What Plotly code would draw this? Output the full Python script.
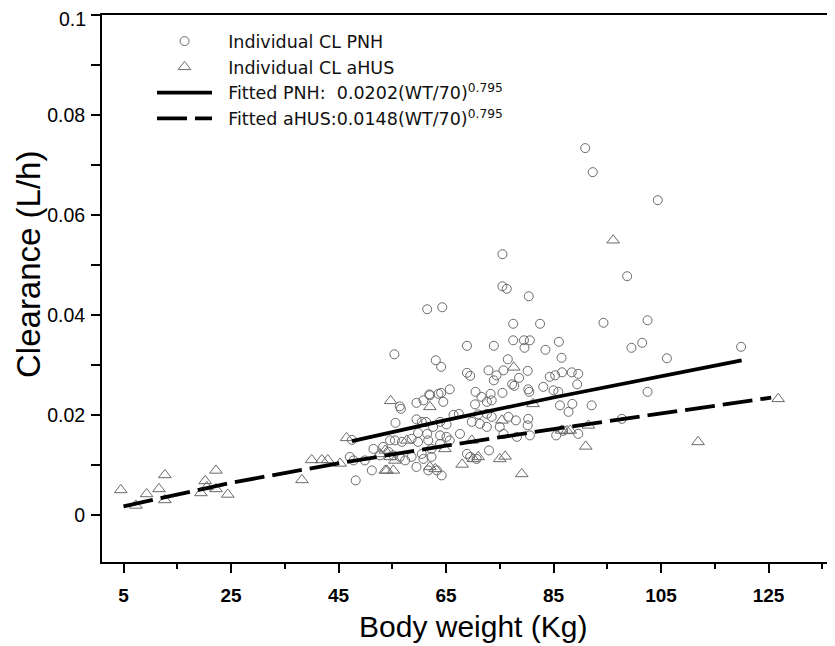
import plotly.graph_objects as go

# ---- data ----
pnh_wt = [75.5, 75.5, 76.3, 80.4, 61.5, 64.3, 98.7, 77.5, 82.5, 94.3,
          55.4, 68.9, 73.9, 77.5, 79.5, 80.6, 79.6, 83.5, 86.0, 99.5,
          63.1, 64.1, 76.5, 86.5, 68.9, 69.5, 72.9, 74.4, 73.9, 75.7,
          80.2, 78.6, 77.3, 77.7, 84.3, 85.3, 86.6, 88.4, 89.6, 89.4,
          83.1, 80.3, 80.5, 85.0, 85.9, 88.5, 92.1, 86.2, 87.8, 65.7,
          64.1, 61.9, 59.5, 60.8, 64.5, 56.4, 56.6, 70.5, 71.6, 73.3,
          73.5, 75.5, 70.4, 72.6, 67.4, 66.4, 59.5, 61.3, 63.9, 65.1,
          55.6, 71.0, 72.6, 73.5, 76.6, 78.0, 80.3, 80.2, 69.8, 71.3,
          72.6, 59.8, 61.5, 63.9, 65.1, 67.6, 75.0, 75.7, 78.2, 80.6,
          85.5, 86.8, 89.6, 97.7, 73.0, 68.9, 69.5, 70.7, 64.2, 63.3,
          60.8, 60.5, 58.6, 62.3, 63.9, 65.7, 61.7, 59.8, 58.6, 56.8,
          55.5, 54.6, 53.3, 54.3, 55.2, 51.2, 49.9, 47.8, 47.1, 48.2,
          47.5, 51.5, 90.9, 92.3, 104.4, 102.5, 101.5, 106.1, 119.9, 102.5,
          62.0, 63.6, 60.5, 62.6, 52.7, 56.4, 57.4, 62.3, 59.5, 61.7]
pnh_cl = [0.0522, 0.0458, 0.0453, 0.0438, 0.0412, 0.0416, 0.0478, 0.0383, 0.0383, 0.0385,
          0.0322, 0.0339, 0.0339, 0.0350, 0.0350, 0.0350, 0.0335, 0.0331, 0.0347, 0.0335,
          0.0310, 0.0297, 0.0312, 0.0315, 0.0285, 0.0279, 0.0290, 0.0280, 0.0270, 0.0290,
          0.0289, 0.0275, 0.0262, 0.0259, 0.0277, 0.0280, 0.0286, 0.0286, 0.0283, 0.0262,
          0.0257, 0.0252, 0.0247, 0.0250, 0.0247, 0.0223, 0.0220, 0.0220, 0.0207, 0.0252,
          0.0245, 0.0242, 0.0225, 0.0230, 0.0227, 0.0218, 0.0213, 0.0247, 0.0237, 0.0243,
          0.0230, 0.0245, 0.0222, 0.0227, 0.0203, 0.0201, 0.0192, 0.0187, 0.0187, 0.0182,
          0.0185, 0.0202, 0.0203, 0.0197, 0.0197, 0.0190, 0.0193, 0.0180, 0.0187, 0.0183,
          0.0177, 0.0165, 0.0163, 0.0160, 0.0157, 0.0163, 0.0177, 0.0163, 0.0157, 0.0160,
          0.0160, 0.0169, 0.0163, 0.0193, 0.0130, 0.0123, 0.0117, 0.0113, 0.0080, 0.0090,
          0.0113, 0.0123, 0.0117, 0.0133, 0.0143, 0.0150, 0.0150, 0.0147, 0.0153, 0.0147,
          0.0150, 0.0150, 0.0137, 0.0127, 0.0120, 0.0090, 0.0110, 0.0110, 0.0117, 0.0070,
          0.0151, 0.0133, 0.0734, 0.0686, 0.0630, 0.0390, 0.0345, 0.0314, 0.0337, 0.0247,
          0.0240, 0.0243, 0.0187, 0.0177, 0.0120, 0.0117, 0.0110, 0.0117, 0.0097, 0.0090]

ahus_wt = [4.5, 7.3, 9.3, 11.6, 12.7, 12.7, 19.4, 20.2, 20.5, 22.2,
           22.2, 24.4, 38.2, 40.0, 41.9, 43.0, 45.3, 46.5, 54.7, 53.7,
           62.0, 52.7, 53.7, 54.6, 55.5, 54.0, 55.2, 57.7, 64.8, 69.8,
           70.1, 71.0, 68.0, 75.0, 76.0, 79.1, 62.0, 63.0, 77.6, 75.4,
           81.2, 87.5, 88.1, 91.5, 91.0, 96.1, 111.9, 126.8, 86.5]
ahus_cl = [0.0051, 0.0020, 0.0043, 0.0053, 0.0081, 0.0031, 0.0045, 0.0069, 0.0057, 0.0090,
           0.0053, 0.0042, 0.0071, 0.0111, 0.0111, 0.0111, 0.0104, 0.0155, 0.0229, 0.0090,
           0.0217, 0.0123, 0.0130, 0.0117, 0.0110, 0.0090, 0.0090, 0.0150, 0.0133, 0.0150,
           0.0113, 0.0117, 0.0102, 0.0113, 0.0118, 0.0083, 0.0097, 0.0093, 0.0296, 0.0190,
           0.0223, 0.0169, 0.0170, 0.0180, 0.0138, 0.0550, 0.0147, 0.0233, 0.0170]

fit_pnh_wt = [47.5, 65, 85, 105, 120]
fit_pnh_cl = [0.01484, 0.01904, 0.02357, 0.02788, 0.0310]
fit_ahus_wt = [5, 25, 45, 65, 85, 105, 125.5]
fit_ahus_cl = [0.00182, 0.00653, 0.01042, 0.01395, 0.01727, 0.02043, 0.02354]

x_ticks = [5, 25, 45, 65, 85, 105, 125]
y_ticks = [0, 0.02, 0.04, 0.06, 0.08, 0.1]
y_tick_text = ["0", "0.02", "0.04", "0.06", "0.08", ""]   # top label placed below as annotation
y_top_label = "0.1"

FONT = "Liberation Sans, Arial, sans-serif"
GRAY = "#6a6a6a"
NB = "\u00a0\u00a0"

fig = go.Figure()
fig.add_trace(go.Scatter(
    x=pnh_wt, y=pnh_cl, mode="markers", name=NB + "Individual CL PNH",
    marker=dict(symbol="circle-open", size=9, color=GRAY, line=dict(width=1, color=GRAY)),
))
fig.add_trace(go.Scatter(
    x=ahus_wt, y=ahus_cl, mode="markers", name=NB + "Individual CL aHUS",
    marker=dict(symbol="triangle-up-open", size=11, color=GRAY, line=dict(width=1, color=GRAY)),
))
fig.add_trace(go.Scatter(
    x=fit_pnh_wt, y=fit_pnh_cl, mode="lines",
    name=NB + "Fitted PNH:  0.0202(WT/70)<sup>0.795</sup>",
    line=dict(color="black", width=3.8),
))
fig.add_trace(go.Scatter(
    x=fit_ahus_wt, y=fit_ahus_cl, mode="lines",
    name=NB + "Fitted aHUS:0.0148(WT/70)<sup>0.795</sup>",
    line=dict(color="black", width=3.8, dash="30px,8px"),
))

fig.update_layout(
    width=835, height=646,
    margin=dict(l=94, r=0, t=7, b=92),
    paper_bgcolor="white", plot_bgcolor="white",
    font=dict(family=FONT, color="black"),
    showlegend=True,
    legend=dict(
        x=0.0675, y=0.985, xanchor="left", yanchor="top",
        bgcolor="rgba(0,0,0,0)", font=dict(size=17.5, family="DejaVu Sans, Liberation Sans", color="#111"),
        itemwidth=55, tracegroupgap=0, traceorder="normal",
    ),
    xaxis=dict(
        range=[1.0, 138.86], tickvals=x_ticks, ticktext=[str(v) for v in x_ticks],
        showgrid=False, zeroline=False, automargin=False,
        showline=True, linecolor="black", linewidth=2, mirror=True,
        ticks="outside", ticklen=9, tickwidth=1.5, tickcolor="black",
        minor=dict(dtick=10, tick0=5, ticks="outside", ticklen=5, tickwidth=1.5, tickcolor="black"),
        tickfont=dict(size=19, family="Liberation Sans Narrow, Arial Narrow, Liberation Sans", color="black", weight="bold"),
        ticklabelstandoff=6, ticklabeloverflow="allow",
    ),
    yaxis=dict(
        range=[-0.0093, 0.1], tickvals=y_ticks, ticktext=y_tick_text,
        showgrid=False, zeroline=False, automargin=False,
        showline=True, linecolor="black", linewidth=2, mirror=False,
        ticks="outside", ticklen=9, tickwidth=1.5, tickcolor="black",
        minor=dict(dtick=0.01, tick0=0, ticks="outside", ticklen=9, tickwidth=1.5, tickcolor="black"),
        tickfont=dict(size=19.5, family=FONT, color="black"),
        ticklabelstandoff=2, ticklabeloverflow="allow",
    ),
    annotations=[
        dict(
            text=y_top_label, showarrow=False,
            xref="paper", yref="y", x=0, y=y_ticks[-1],
            xanchor="right", yanchor="middle", xshift=-14, yshift=-4,
            font=dict(size=19.5, family=FONT, color="black"),
        ),
        dict(
            text="Clearance (L/h)", textangle=-90, showarrow=False,
            xref="paper", yref="paper", x=-0.0985, y=0.543,
            xanchor="center", yanchor="middle",
            font=dict(size=33, family=FONT, color="black"),
        ),
        dict(
            text="Body weight (Kg)", showarrow=False,
            xref="paper", yref="paper", x=0.5, y=-0.1188,
            xanchor="center", yanchor="middle",
            font=dict(size=30, family=FONT, color="black"),
        ),
    ],
)

fig.write_html("out.html")
